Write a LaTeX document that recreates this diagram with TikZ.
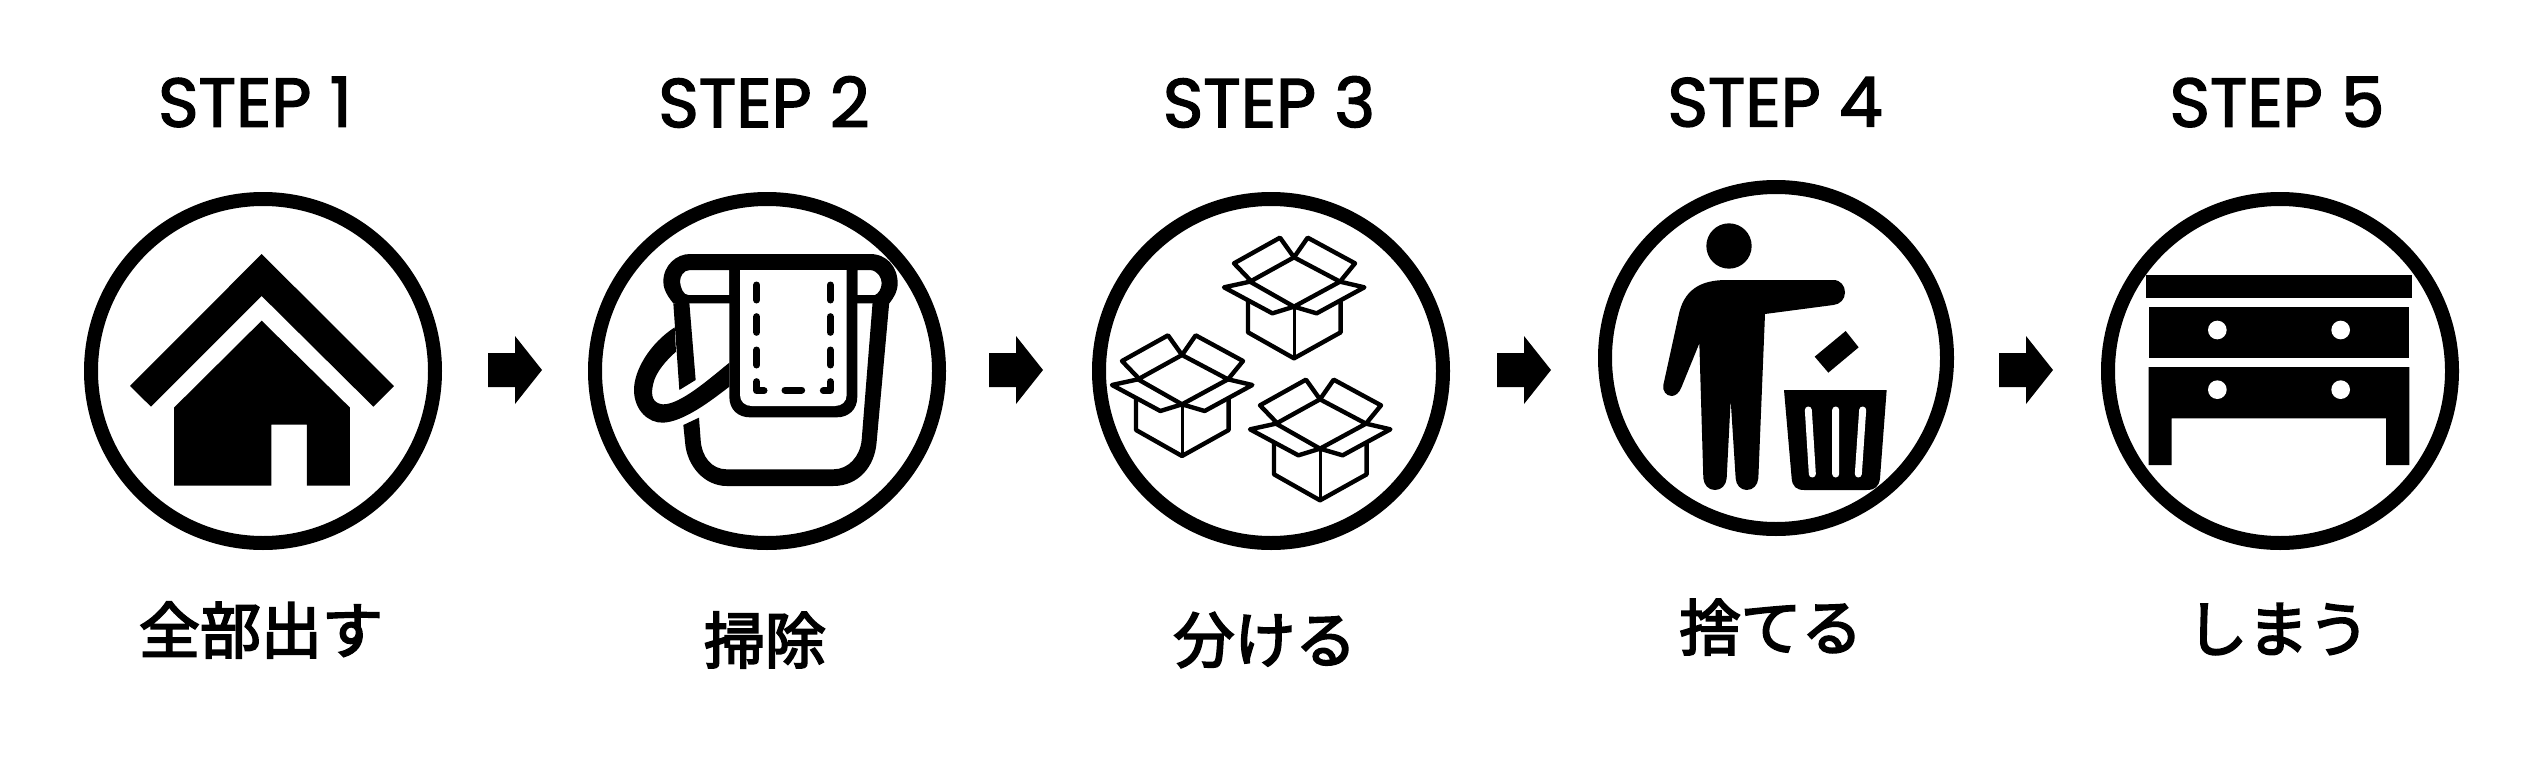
\documentclass[tikz,border=0pt]{standalone}
\usepackage{fontspec}
\setmainfont{Poppins}
\newfontfamily\stepfont[FakeBold=2.2]{Poppins}
\newfontfamily\jpfont[FakeBold=3.2]{Noto Sans CJK JP}
\newcommand{\blockarrow}[1]{\fill[shift={(#1,0)}] (0,353) -- (27,353) -- (27,336) -- (54,370) -- (27,404) -- (27,387) -- (0,387) -- cycle;}
\newcommand{\cartonbox}[2]{%
\begin{scope}[shift={(#1,#2)},boxline]
\draw (510,330) -- (462,280) -- (600,203) -- (642,262) -- (683,203) -- (825,280) -- (780,335);
\draw (642,262) -- (780,335) -- (642,410) -- (510,335) -- cycle;
\draw (510,335) -- (432,352) -- (577,430) -- (642,410) -- (710,430) -- (853,352) -- (780,335);
\draw (504,395) -- (504,487) -- (642,565) -- (782,487) -- (782,395);
\draw[line width=3pt] (642,410) -- (642,565);
\end{scope}}
\tikzset{
  x=1pt,y=-1pt,
  ring/.style={circle,draw=black,line width=14pt,minimum size=344pt,inner sep=0pt,outer sep=0pt},
  steplabel/.style={font=\stepfont\fontsize{69}{69}\selectfont,inner sep=0pt,anchor=center},
  jplabel/.style={font=\jpfont\fontsize{61}{61}\selectfont,inner sep=0pt,anchor=center},
  boxline/.style={line width=4.4pt,line join=round,line cap=round},
  stitch/.style={line width=7pt,line cap=round,line join=round},
  zoomed/.style={scale=1/3}
}
\begin{document}
\begin{tikzpicture}
\useasboundingbox (0,0) rectangle (2530,768);
\fill[white] (0,0) rectangle (2530,768);
% labels
\node[steplabel] (s1) at (255,102) {STEP 1};
\node[steplabel] (s2) at (764,102) {STEP 2};
\node[steplabel] (s3) at (1269,102) {STEP 3};
\node[steplabel] (s4) at (1775,102) {STEP 4};
\node[steplabel] (s5) at (2277,102) {STEP 5};
\node[jplabel] (j1) at (261,630) {全部出す};
\node[jplabel] (j2) at (765,640) {掃除};
\node[jplabel] (j3) at (1265,640) {分ける};
\node[jplabel] (j4) at (1771,627) {捨てる};
\node[jplabel] (j5) at (2278,629) {しまう};
% arrows
\blockarrow{488}
\blockarrow{989}
\blockarrow{1497}
\blockarrow{1999}
% house
\begin{scope}[shift={(60,170)},zoomed]
\fill (605,252) -- (1002,648) -- (940,710) -- (605,378) -- (273,710) -- (210,648) -- cycle;
\fill (605,452) -- (870,713) -- (870,947) -- (741,947) -- (741,764) -- (634,764) -- (634,947) -- (342,947) -- (342,713) -- cycle;
\end{scope}
% bucket
\begin{scope}[shift={(570,170)},zoomed]
\fill[even odd rule] (310,400) .. controls (285,370) and (280,350) .. (280,335)
  .. controls (280,285) and (320,252) .. (360,252) -- (900,252)
  .. controls (950,252) and (983,290) .. (983,340)
  .. controls (983,365) and (970,385) .. (958,400) -- cycle
  (478,300) -- (360,300) .. controls (340,300) and (330,320) .. (330,335)
  .. controls (332,355) and (340,375) .. (355,375) -- (478,375) -- cycle
  (862,300) -- (900,300) .. controls (925,302) and (935,325) .. (935,340)
  .. controls (935,355) and (925,372) .. (915,375) -- (862,375) -- cycle;
% walls
\fill (310,400) -- (358,398) -- (377,630) -- (328,660) -- cycle;
\fill (958,395) -- (908,395) -- (875,810) .. controls (870,860) and (835,898) .. (790,898)
  -- (470,898) .. controls (425,898) and (395,860) .. (392,810) -- (387,743) -- (340,765) -- (345,815)
  .. controls (350,890) and (405,948) .. (470,948) -- (790,948)
  .. controls (865,948) and (915,890) .. (920,815) -- cycle;
% handle
\fill (314,472) .. controls (240,520) and (192,600) .. (192,660)
  .. controls (192,720) and (235,760) .. (280,758)
  .. controls (340,755) and (420,695) .. (478,650) -- (478,578)
  .. controls (420,625) and (330,705) .. (278,703)
  .. controls (250,700) and (240,680) .. (250,640)
  .. controls (258,605) and (290,570) .. (318,545) -- cycle;
% towel
\fill (478,290) -- (862,290) -- (862,680) .. controls (862,720) and (835,742) .. (800,742)
  -- (540,742) .. controls (505,742) and (478,720) .. (478,680) -- cycle;
\fill[white] (510,300) -- (830,300) -- (830,675) .. controls (830,695) and (815,708) .. (795,708)
  -- (545,708) .. controls (525,708) and (510,695) .. (510,675) -- cycle;
\draw[stitch] (560,345) -- (560,390) (560,440) -- (560,487) (560,540) -- (560,585);
\draw[stitch] (781,345) -- (781,390) (781,440) -- (781,487) (781,540) -- (781,585);
\draw[stitch] (560,635) -- (560,662) -- (582,662) (645,660) -- (695,660) (760,662) -- (781,662) -- (781,635);
\end{scope}
% boxes
\begin{scope}[shift={(1080,170)},zoomed]
\cartonbox{0}{0}
\cartonbox{-336}{293}
\cartonbox{78}{426}
\end{scope}
% person and bin
\begin{scope}[shift={(1580,170)},zoomed]
\fill (447,228) circle[radius=68];
\fill (440,330) -- (760,330) .. controls (782,330) and (795,348) .. (795,367)
  .. controls (795,388) and (780,403) .. (760,405) -- (555,432) -- (535,925)
  .. controls (533,945) and (520,960) .. (500,960) .. controls (482,960) and (468,945) .. (467,925)
  -- (452,690) -- (440,925) .. controls (438,945) and (425,960) .. (405,960)
  .. controls (385,960) and (372,945) .. (370,925) -- (358,520) -- (305,650)
  .. controls (298,670) and (285,678) .. (275,678) .. controls (258,678) and (247,662) .. (250,645)
  -- (295,440) .. controls (310,360) and (360,330) .. (440,330) -- cycle;
\fill (612,660) -- (920,660) -- (900,925) .. controls (897,950) and (885,960) .. (860,960)
  -- (672,960) .. controls (650,960) and (637,950) .. (635,925) -- cycle;
\draw[white,stitch] (685,720) -- (697,912) (767,720) -- (767,912) (848,720) -- (835,912);
\fill (797,483) -- (836,532) -- (745,608) -- (704,560) -- cycle;
\end{scope}
% chest
\begin{scope}[shift={(2080,170)},zoomed]
\fill (198,314) rectangle (996,383);
\fill (206,411) rectangle (988,565);
\fill (206,591) -- (988,591) -- (988,885) -- (918,885) -- (918,745) -- (275,745) -- (275,885) -- (206,885) -- cycle;
\fill[white] (412,480) circle[radius=28] (782,480) circle[radius=28] (412,659) circle[radius=28] (782,659) circle[radius=28];
\end{scope}
% rings
\node[ring] (c1) at (263,371) {};
\node[ring] (c2) at (767,371) {};
\node[ring] (c3) at (1271,371) {};
\node[ring,minimum size=342pt] (c4) at (1776,358) {};
\node[ring] (c5) at (2280,371) {};
\end{tikzpicture}
\end{document}
